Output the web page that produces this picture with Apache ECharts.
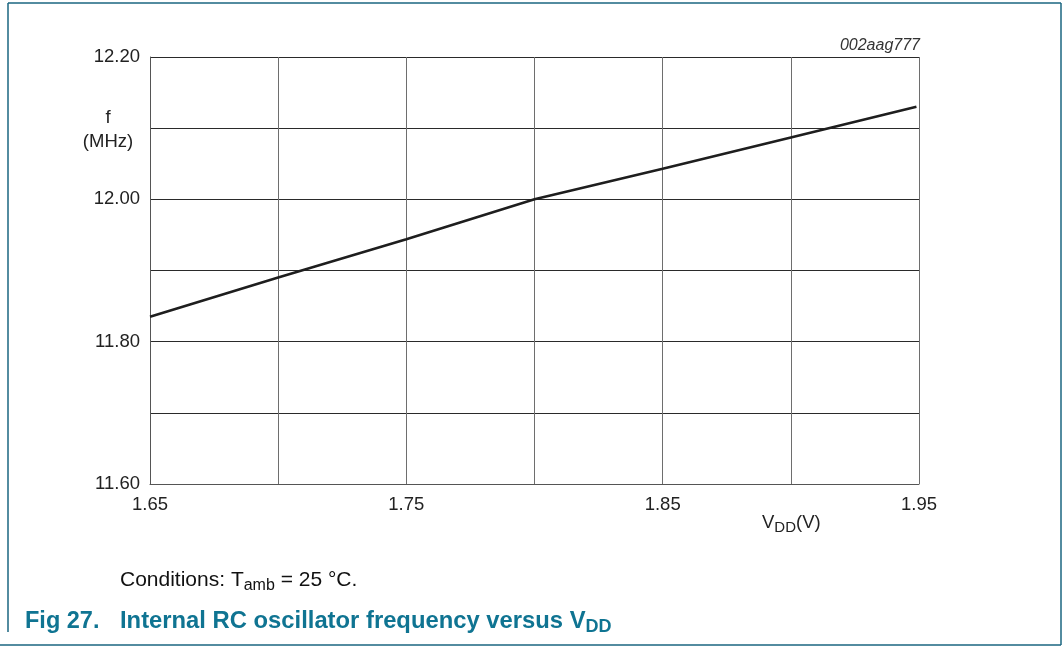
<!DOCTYPE html>
<html>
<head>
<meta charset="utf-8">
<script src="https://cdn.jsdelivr.net/npm/echarts@6/dist/echarts.min.js"></script>
<style>
html, body { margin: 0; padding: 0; background: #fff; }
#chart { width: 1063px; height: 646px; }
</style>
</head>
<body>
<div id="chart"></div>
<script>
// supply voltage (V) and frequency (MHz)
var vdd = [1.65, 1.70, 1.75, 1.80, 1.85, 1.90, 1.949];
var freq = [11.835, 11.890, 11.944, 12.000, 12.043, 12.087, 12.130];

var xMin = 1.65, xMax = 1.95, xStep = 0.05;
var yMin = 11.60, yMax = 12.20, yStep = 0.1;

var teal = '#0f7492';
var frame = '#1a6680';
var font = '"Liberation Sans", Arial, sans-serif';

var chart = echarts.init(document.getElementById('chart'));

/* only every other grid line gets a label */
function everyOther(min, step) {
	return function (v) {
		var k = Math.round((v - min) / step);
		return k % 2 === 0 ? v.toFixed(2) : '';
	};
}

var option = {
	animation: false,
	backgroundColor: '#fff',
	grid: { left: 150, top: 57, width: 769, height: 427 },
	xAxis: {
		type: 'value',
		min: xMin,
		max: xMax,
		interval: xStep,
		axisLine: { show: true, lineStyle: { color: '#555', width: 1 } },
		axisTick: { show: false },
		axisLabel: {
			margin: 11,
			color: '#222',
			fontFamily: font,
			fontSize: 18.5,
			formatter: everyOther(xMin, xStep)
		},
		splitLine: { show: true, lineStyle: { color: '#6e6e6e', width: 1 } }
	},
	yAxis: {
		type: 'value',
		min: yMin,
		max: yMax,
		interval: yStep,
		axisLine: { show: true, lineStyle: { color: '#555', width: 1 } },
		axisTick: { show: false },
		axisLabel: {
			margin: 10,
			color: '#222',
			fontFamily: font,
			fontSize: 18.5,
			formatter: everyOther(yMin, yStep)
		},
		splitLine: { show: true, lineStyle: { color: '#2a2a2a', width: 1 } }
	},
	series: [{
		type: 'line',
		data: vdd.map(function (v, i) { return [v, freq[i]]; }),
		showSymbol: false,
		lineStyle: { color: '#1e1e1e', width: 2.6 }
	}],
	graphic: [
		// frame
		{ type: 'line', shape: { x1: 8, y1: 3, x2: 1061, y2: 3 }, style: { stroke: frame, lineWidth: 1.5 } },
		{ type: 'line', shape: { x1: 8, y1: 3, x2: 8, y2: 632 }, style: { stroke: frame, lineWidth: 1.5 } },
		{ type: 'line', shape: { x1: 1061, y1: 3, x2: 1061, y2: 645 }, style: { stroke: frame, lineWidth: 1.5 } },
		{ type: 'line', shape: { x1: 0, y1: 645, x2: 1061, y2: 645 }, style: { stroke: frame, lineWidth: 1.5 } },
		// figure id
		{ type: 'text', x: 920, y: 46, style: { text: '002aag777', fill: '#333', font: 'italic 16px ' + font, align: 'right', verticalAlign: 'middle' } },
		// y axis name
		{ type: 'text', x: 108, y: 118, style: { text: 'f', fill: '#222', font: '18.5px ' + font, align: 'center', verticalAlign: 'middle' } },
		{ type: 'text', x: 108, y: 142, style: { text: '(MHz)', fill: '#222', font: '18.5px ' + font, align: 'center', verticalAlign: 'middle' } },
		// x axis name
		{ type: 'text', x: 762, y: 511, style: {
			text: '{n|V}{s|DD}{n|(V)}',
			rich: {
				n: { fontFamily: font, fontSize: 18.5, fill: '#222', lineHeight: 24 },
				s: { fontFamily: font, fontSize: 15, fill: '#222', lineHeight: 15, verticalAlign: 'bottom' }
			}
		} },
		// conditions
		{ type: 'text', x: 120, y: 566, style: {
			text: '{n|Conditions: T}{s|amb}{n| = 25 °C.}',
			rich: {
				n: { fontFamily: font, fontSize: 21, fill: '#111', lineHeight: 28 },
				s: { fontFamily: font, fontSize: 16, fill: '#111', lineHeight: 16, verticalAlign: 'bottom' }
			}
		} },
		// caption
		{ type: 'text', x: 25, y: 622, style: {
			text: 'Fig 27.', fill: teal, font: 'bold 23.5px ' + font, verticalAlign: 'middle'
		} },
		{ type: 'text', x: 120, y: 606, style: {
			text: '{n|Internal RC oscillator frequency versus V}{s|DD}',
			rich: {
				n: { fontFamily: font, fontSize: 23.8, fontWeight: 'bold', fill: teal, lineHeight: 30 },
				s: { fontFamily: font, fontSize: 18, fontWeight: 'bold', fill: teal, lineHeight: 18, verticalAlign: 'bottom' }
			}
		} }
	]
};

chart.setOption(option);
</script>
</body>
</html>
